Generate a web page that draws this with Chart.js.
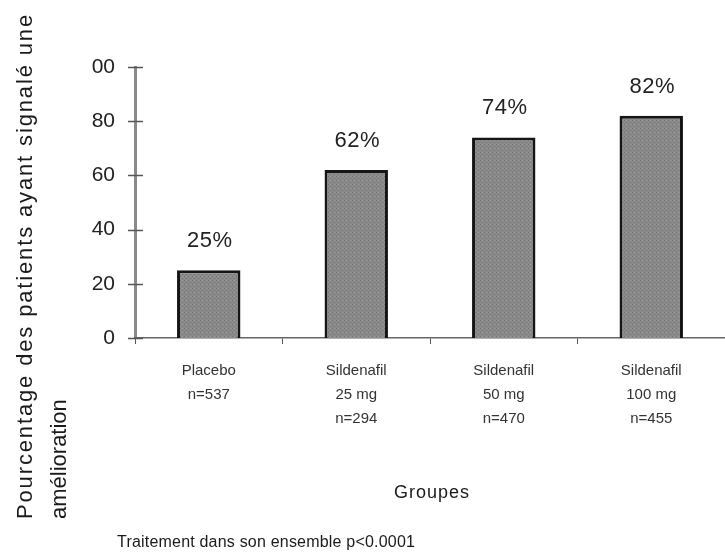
<!DOCTYPE html>
<html>
<head>
<meta charset="utf-8">
<script src="https://cdn.jsdelivr.net/npm/chart.js@4.4.1/dist/chart.umd.min.js"></script>
<style>
  html, body { margin: 0; padding: 0; background: #fff; }
  #wrap { width: 725px; height: 554px; position: relative; }
</style>
</head>
<body>
<div id="wrap"><canvas id="c" width="725" height="554"></canvas></div>
<script>
// ---- data ----
const categories = [
  ['Placebo', 'n=537'],
  ['Sildenafil', '25 mg', 'n=294'],
  ['Sildenafil', '50 mg', 'n=470'],
  ['Sildenafil', '100 mg', 'n=455']
];
const improvementPct = [25, 62, 74, 82];
const yTickLabels = ['0', '20', '40', '60', '80', '00'];
const yTitleLines = ['Pourcentage des patients ayant signalé une', 'amélioration'];
const xTitle = 'Groupes';
const footnote = 'Traitement dans son ensemble p<0.0001';

const FONT = '"Liberation Sans", Arial, sans-serif';

// stippled grey fill
function makePattern() {
  const p = document.createElement('canvas');
  p.width = 4; p.height = 4;
  const g = p.getContext('2d');
  g.fillStyle = '#8a8a8a';
  g.fillRect(0, 0, 4, 4);
  g.fillStyle = '#727272';
  g.fillRect(0, 0, 1, 1);
  g.fillRect(2, 2, 1, 1);
  g.fillStyle = '#9e9e9e';
  g.fillRect(2, 0, 1, 1);
  return document.getElementById('c').getContext('2d').createPattern(p, 'repeat');
}

function drawSpaced(ctx, text, x, y, spacing) {
  ctx.letterSpacing = spacing + 'px';
  ctx.fillText(text, x, y);
  ctx.letterSpacing = '0px';
}

const decorPlugin = {
  id: 'decor',
  afterDatasetsDraw(chart) {
    const ctx = chart.ctx;
    const meta = chart.getDatasetMeta(0);
    ctx.save();
    // value labels
    ctx.fillStyle = '#222';
    ctx.font = '22px ' + FONT;
    ctx.textAlign = 'center';
    ctx.textBaseline = 'alphabetic';
    meta.data.forEach((bar, i) => {
      drawSpaced(ctx, improvementPct[i] + '%', bar.x + 1, bar.y - 23, 0.5);
    });
    // y tick marks crossing the axis
    const ys = chart.scales.y;
    ctx.strokeStyle = '#555';
    ctx.lineWidth = 1.5;
    ys.ticks.forEach(t => {
      const py = Math.round(ys.getPixelForValue(t.value)) + 0.5;
      ctx.beginPath();
      ctx.moveTo(ys.right - 7, py);
      ctx.lineTo(ys.right + 8, py);
      ctx.stroke();
    });
    ctx.restore();
  },
  afterDraw(chart) {
    const ctx = chart.ctx;
    const area = chart.chartArea;
    ctx.save();
    ctx.fillStyle = '#1a1a1a';
    // y title (rotated, start-aligned at bottom)
    ctx.font = '22px ' + FONT;
    ctx.textAlign = 'left';
    ctx.textBaseline = 'alphabetic';
    const startY = 519;
    const baselines = [32, 66];
    const targetLen = 506;
    const w0 = ctx.measureText(yTitleLines[0]).width;
    const sp0 = Math.max(0, (targetLen - w0) / yTitleLines[0].length);
    const spacings = [sp0, 0];
    yTitleLines.forEach((line, i) => {
      ctx.save();
      ctx.translate(baselines[i], startY);
      ctx.rotate(-Math.PI / 2);
      drawSpaced(ctx, line, 0, 0, spacings[i]);
      ctx.restore();
    });
    // x title
    ctx.font = '18px ' + FONT;
    ctx.textAlign = 'center';
    ctx.textBaseline = 'middle';
    drawSpaced(ctx, xTitle, (area.left + area.right) / 2 + 2, 493, 1);
    // footnote
    ctx.font = '16px ' + FONT;
    ctx.textAlign = 'left';
    drawSpaced(ctx, footnote, 117, 543, 0.2);
    ctx.restore();
  }
};

new Chart(document.getElementById('c'), {
  type: 'bar',
  data: {
    labels: categories,
    datasets: [{
      data: improvementPct,
      backgroundColor: makePattern(),
      borderColor: '#151515',
      borderWidth: 3,
      borderSkipped: 'bottom',
      barPercentage: 0.43,
      categoryPercentage: 1.0
    }]
  },
  options: {
    responsive: false,
    animation: false,
    devicePixelRatio: 1,
    layout: { padding: { left: 0, right: 0, top: 67, bottom: 0 } },
    plugins: { legend: { display: false }, tooltip: { enabled: false } },
    scales: {
      y: {
        min: 0, max: 100,
        afterFit(s) { s.width = 135; },
        ticks: {
          stepSize: 20,
          padding: 20,
          color: '#222',
          font: { family: FONT, size: 21 },
          callback: (v, i) => yTickLabels[i]
        },
        grid: { display: false, drawTicks: false },
        border: { display: true, color: '#8a8a8a', width: 3 }
      },
      x: {
        afterFit(s) { s.height = 216; },
        ticks: {
          padding: 15,
          color: '#333',
          font: { family: FONT, size: 15, lineHeight: 1.6 },
          maxRotation: 0,
          autoSkip: false
        },
        grid: { display: true, drawOnChartArea: false, drawTicks: true, tickLength: 6, color: '#555', lineWidth: 1, offset: true },
        border: { display: true, color: '#666', width: 1.5 }
      }
    }
  },
  plugins: [decorPlugin]
});
</script>
</body>
</html>
